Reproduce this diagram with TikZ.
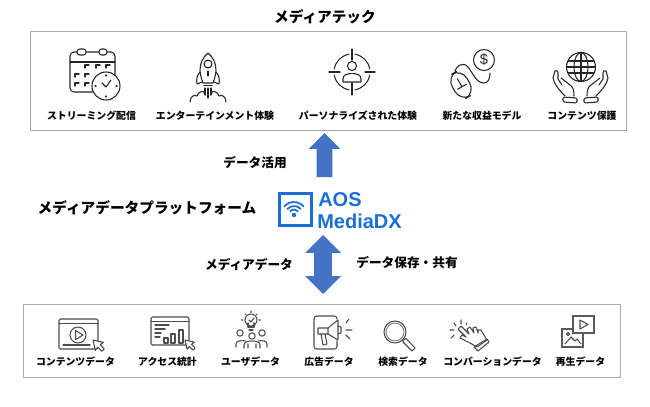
\documentclass[tikz,border=0pt]{standalone}
\usepackage{fontspec}
\setmainfont{Noto Sans CJK JP}
\newfontfamily\logofont{Liberation Sans}
\usetikzlibrary{shapes.arrows,positioning}
\definecolor{framegray}{HTML}{ABABAB}
\definecolor{arrowblue}{HTML}{4472C4}
\definecolor{logoblue}{HTML}{1B6FD2}
\newcommand{\carehand}{
  \draw[icon] (565,96) .. controls (559,90) and (554,84) .. (553,78) -- (555,71) .. controls (557,70) and (558,71) .. (558,73) -- (558,79) -- (562,85);
  \draw[icon] (561,78) -- (570,85) .. controls (573,87) and (574,90) .. (574,96);
  \draw[icon, rounded corners=1] (563,97) -- (577,98) -- (577,103) -- (563,102) -- cycle;
}
\begin{document}
\begin{tikzpicture}[x=0.75pt, y=-0.75pt,
    panel/.style={draw=framegray, line width=0.6pt, inner sep=0pt},
    titlelabel/.style={font=\bfseries\fontsize{11pt}{13pt}\selectfont, inner sep=0pt},
    sidelabel/.style={font=\bfseries\fontsize{9.5pt}{12pt}\selectfont, inner sep=0pt},
    iconlabel/.style={font=\bfseries\fontsize{7.4pt}{9pt}\selectfont, inner sep=0pt},
    icon/.style={line width=0.8pt, black!85, line cap=round, line join=round},
    darkicon/.style={line width=0.8pt, black!70, line cap=round, line join=round},
    logotext/.style={font=\logofont\bfseries\fontsize{15pt}{16pt}\selectfont, text=logoblue, inner sep=0pt, anchor=west},
    uparrow/.style={single arrow, fill=arrowblue, inner xsep=0pt, inner ysep=7.5*0.75pt, rotate=90, single arrow head extend=8*0.75pt},
    updownarrow/.style={double arrow, fill=arrowblue, inner xsep=0pt, inner ysep=8.5*0.75pt, rotate=90, double arrow head extend=9*0.75pt},
    cursorpic/.pic={\draw[darkicon, fill=white] (0,0) -- (3,13) -- (6,9) -- (11,14) -- (14,11) -- (9,6) -- (13,3) -- cycle;},
]
\useasboundingbox (0,0) rectangle (650,407);

% Panels
\node[panel, minimum width=596*0.75pt, minimum height=99*0.75pt] (techpanel) at (328,80.5) {};
\node[panel, minimum width=597*0.75pt, minimum height=73*0.75pt] (datapanel) at (321.5,340.5) {};
\node[titlelabel] (techtitle) at (325,17) {メディアテック};

% Labels of the upper panel
\node[iconlabel] (streaming) at (91.5,116) {ストリーミング配信};
\node[iconlabel] (entertain) at (215,116) {エンターテインメント体験};
\node[iconlabel] (personal) at (358,116) {パーソナライズされた体験};
\node[iconlabel] (revenue) at (482,116) {新たな収益モデル};
\node[iconlabel] (protect) at (582,116) {コンテンツ保護};

% Labels of the lower panel
\node[iconlabel] (content) at (75.5,362) {コンテンツデータ};
\node[iconlabel] (access) at (167.5,362) {アクセス統計};
\node[iconlabel] (userdata) at (250.5,362) {ユーザデータ};
\node[iconlabel] (addata) at (329,362) {広告データ};
\node[iconlabel] (search) at (403,362) {検索データ};
\node[iconlabel] (conversion) at (492.5,362) {コンバーションデータ};
\node[iconlabel] (replay) at (580.5,362) {再生データ};

% Middle part
\node[titlelabel] (platform) at (147,208) {メディアデータプラットフォーム};
\node[sidelabel] (use) at (255,163) {データ活用};
\node[sidelabel] (media) at (249,265) {メディアデータ};
\node[sidelabel] (store) at (407,263) {データ保存・共有};
\node[uparrow, minimum height=44*0.75pt] (arrowup) at (324.5,159) {};
\node[updownarrow, minimum height=59*0.75pt] (arrowboth) at (323,264.5) {};

% Logo
\node[draw=logoblue, line width=2.25pt, minimum size=32*0.75pt, inner sep=0pt] (logoframe) at (295.5,209.5) {};
\fill[logoblue] (294,215) circle (2.2);
\foreach \r in {5.5,9,13}
  \draw[logoblue, line width=1.3pt] ([shift={(-140:\r)}]294,215) arc (-140:-40:\r);
\node[logotext] (logoaos) at (318,199.5) {AOS};
\node[logotext] (logomedia) at (317,221) {MediaDX};

% Calendar
\draw[icon, rounded corners=3] (70,52) rectangle (115,92);
\draw[icon] (70,62) -- (115,62);
\draw[icon, fill=white, rounded corners=2] (77,49) rectangle (86,55);
\draw[icon, fill=white, rounded corners=2] (99,49) rectangle (107,55);
\foreach \x/\y in {85/65,96/65,106/65,75/74,85/74,75/83,85/83}
  \draw[icon] (\x,\y+3) -- (\x,\y) -- (\x+4,\y);
\draw[icon, fill=white] (106,86) circle (14);
\draw[icon] (102,83) -- (106,87) -- (111,80);
\foreach \a in {0,90,180,270}
  \draw[icon] ([shift={(\a:10)}]106,86) -- ([shift={(\a:11)}]106,86);

% Rocket
\draw[icon] (208,53) .. controls (213,57) and (216,63) .. (216,70) .. controls (216,75) and (214,80) .. (213,83) -- (203,83) .. controls (202,80) and (200,75) .. (200,70) .. controls (200,63) and (203,57) .. (208,53) -- cycle;
\draw[icon] (200,72) .. controls (197,75) and (196,80) .. (197,84) -- (202,82);
\draw[icon] (216,72) .. controls (219,75) and (220,80) .. (219,84) -- (214,82);
\draw[icon] (208,64) circle (4);
\draw[icon] (208,71) -- (208,76);
\draw[icon] (204,85.5) -- (212,85.5);
\draw[icon] (205,88) -- (205,95) (208,88) -- (208,98) (211,88) -- (211,95);
\draw[icon] (190,102) .. controls (190,97) and (194,94) .. (197,96) .. controls (198,92) and (203,90) .. (205,93);
\draw[icon] (226,102) .. controls (226,97) and (222,94) .. (219,96) .. controls (218,92) and (213,90) .. (211,93);

% Target
\foreach \a in {0,90,180,270}
  \draw[icon] ([shift={(\a+10:18)}]352,72) arc (\a+10:\a+80:18);
\draw[icon] (352,49) -- (352,60) (352,83) -- (352,95) (329,72) -- (340,72) (365,72) -- (375,72);
\draw[icon] (352,66) circle (4.5);
\draw[icon] (343,82) -- (343,79) .. controls (343,75) and (347,73.5) .. (352,73.5) .. controls (357,73.5) and (361,75) .. (361,79) -- (361,82) -- cycle;

% Mouse and coin
\draw[icon, rotate around={30:(461,85)}, rounded corners=8.5] (452.5,71) rectangle (469.5,99);
\draw[icon, rotate around={30:(461,85)}] (461,78) -- (461,87) (456,87) -- (466,87);
\draw[icon] (455,73) .. controls (455,66) and (463,61) .. (468,67) .. controls (473,73) and (476,83) .. (484,83) .. controls (488,83) and (490,79) .. (490,73);
\node[draw, circle, line width=0.8pt, black!85, minimum size=21*0.75pt, inner sep=0pt, font=\logofont\fontsize{11pt}{12pt}\selectfont] (coin) at (484,60) {\$};

% Globe and hands
\draw[icon] (581,67) circle (14.5);
\draw[icon] (581,67) ellipse (7 and 14.5);
\draw[icon] (581,52.5) -- (581,81.5) (568.5,61) -- (593.5,61) (567,67) -- (595,67) (568.5,73) -- (593.5,73);
\carehand
\begin{scope}[shift={(1161,0)}, xscale=-1]
\carehand
\end{scope}

% Video window
\draw[darkicon, rounded corners=1] (59,319) rectangle (98,349);
\draw[darkicon] (59,323.5) -- (98,323.5) (63,345) -- (90,345);
\draw[darkicon] (78,335) circle (8);
\draw[darkicon] (75.5,330.5) -- (83,335) -- (75.5,339.5) -- cycle;
\pic[scale=0.8] at (93,340) {cursorpic};

% Statistics window
\draw[darkicon, rounded corners=1] (151,317) rectangle (189,345);
\draw[darkicon] (151,321.5) -- (189,321.5) (155,325) -- (169,325) (155,329) -- (165,329) (155,333) -- (161,333) (155,337) -- (160,337);
\draw[darkicon] (164,338) rectangle (168,343) (171,334) rectangle (175,343) (179,330) rectangle (183,343);
\pic[scale=0.72] at (185,340) {cursorpic};

% Users with bulb
\draw[darkicon] (251,320) circle (6);
\draw[darkicon] (248,323) -- (248,327) -- (254,327) -- (254,323) (249,330) -- (253,330);
\draw[darkicon] (249,320) -- (251,322) -- (254,318);
\draw[darkicon] (251,311) -- (251,312.5) (243,320) -- (241.5,320) (259,320) -- (260.5,320) (245,314) -- (246,315) (257,314) -- (256,315);
\foreach \x/\y in {240/333,252/336,262/333}
  \draw[darkicon] (\x,\y) circle (3.2);
\draw[darkicon] (236,347) -- (236,344) .. controls (236,341) and (240,340) .. (246,341);
\draw[darkicon] (267,347) -- (267,344) .. controls (267,341) and (263,340) .. (258,341);
\draw[darkicon] (244,348) -- (244,345) .. controls (244,342) and (248,341) .. (252,341) .. controls (256,341) and (260,342) .. (260,345) -- (260,348) (248,344) -- (248,348) (256,344) -- (256,348);

% Megaphone
\draw[darkicon, rounded corners=2] (337,319) -- (337,316) -- (314,316) -- (314,349) -- (337,349) -- (337,341);
\draw[darkicon, fill=white] (318,328) -- (328,328) -- (338,320) -- (338,340) -- (328,334) -- (318,334) -- cycle;
\draw[darkicon] (328,328) -- (328,334) (338,326) -- (341,327) -- (341,333) -- (338,334) (321,334) -- (323,345) -- (327,344) -- (325,334);
\draw[darkicon] (346,323) -- (349,319) (346,330) -- (352,330) (346,335) -- (350,339);

% Magnifier
\draw[darkicon] (395,332) circle (11);
\draw[darkicon, black!45] (395,332) circle (9);
\draw[darkicon] (403,340) -- (406,338.5) -- (415,348) -- (412,351) -- (403,342) -- cycle;

% Tapping hand
\draw[darkicon] (458,329) -- (461,326) -- (469,334) -- (467,329) -- (470,327) -- (474,333) -- (473,328) -- (476,327) -- (478,333) -- (478,330) -- (481,330) -- (487,340) -- (477,347) -- (470,343) -- (460,338) -- (462,335) -- (466,337) -- cycle;
\draw[darkicon] (474,347) -- (487,339) -- (489,342) -- (478,351) -- cycle;
\draw[darkicon] (450,330) -- (454,330) (454,323) -- (456,326) (461,320) -- (461,324) (467,323) -- (466,325) (451,338) -- (454,335);

% Picture and video
\draw[line width=1.3pt, black!65, fill=white] (562,329) rectangle (583,347);
\draw[darkicon] (565,344) -- (571,337) -- (575,341) -- (577,339) -- (581,344);
\draw[darkicon] (568,334) circle (1.5);
\draw[line width=1.3pt, black!65, fill=white] (573,316) rectangle (594,333);
\draw[darkicon] (580,320) -- (588,324.5) -- (580,329) -- cycle;
\end{tikzpicture}
\end{document}
